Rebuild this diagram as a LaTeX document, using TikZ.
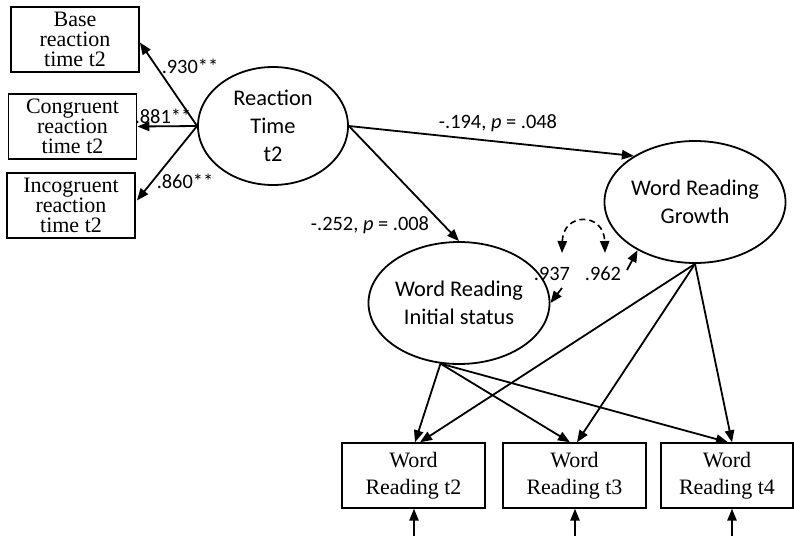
\documentclass[tikz,border=0pt]{standalone}
\usepackage{fontspec}
\setmainfont{Carlito}
\newfontfamily\tnr{Liberation Serif}
\usetikzlibrary{shapes.geometric,arrows.meta,calc}
\begin{document}
\begin{tikzpicture}[x=0.75pt,y=-0.75pt,
  line width=1.35pt,
  arr/.style={-{Triangle[length=9pt,width=7pt]}},
  lbox/.style={draw,rectangle,inner sep=0pt,minimum width=96pt,minimum height=48.5pt,align=center,font=\tnr\fontsize{16.5}{15}\selectfont},
  bbox/.style={draw,rectangle,inner sep=0pt,minimum height=48.5pt,align=center,font=\tnr\fontsize{16.5}{20}\selectfont},
  latent/.style={draw,ellipse,inner sep=0pt,align=center,font=\fontsize{16.8}{21}\selectfont},
  coef/.style={anchor=base,inner sep=0pt,font=\fontsize{15.3}{18}\selectfont}]
\useasboundingbox (0,0) rectangle (794,536);
% left indicator boxes
\node[lbox] (base) at (75,39.5) {Base\\reaction\\time t2};
\node[lbox] (cong) at (72.5,126.5) {Congruent\\reaction\\time t2};
\node[lbox] (inc) at (71,205.5) {Incogruent\\reaction\\time t2};
% latent variables
\node[latent,minimum width=112.5pt,minimum height=88.5pt] (rt) at (273,126) {Reaction\\Time\\t2};
\node[latent,minimum width=112.5pt,minimum height=91.5pt] (gr) at (695,202) {Word Reading\\Growth};
\node[latent,minimum width=114pt,minimum height=91.5pt] (ini) at (459,303) {Word Reading\\Initial status};
% bottom boxes
\node[bbox,minimum width=107.25pt] (b1) at (413.5,475.5) {Word\\Reading t2};
\node[bbox,minimum width=107.25pt] (b2) at (574.5,475.5) {Word\\Reading t3};
\node[bbox,minimum width=99pt] (b3) at (727,475.5) {Word\\Reading t4};
% loadings
\draw[arr] (rt.west) -- ($(base.east)+(0,3)$);
\draw[arr] (rt.west) -- (cong.east);
\draw[arr] (rt.west) -- ($(inc.east)+(1,-5)$);
\node[coef] (l930) at (190,73) {.930**};
\node[coef] (l881) at (163,123) {.881**};
\node[coef] (l860) at (185,188) {.860**};
% structural paths
\draw[arr] (rt.east) -- (gr.143);
\draw[arr] (rt.east) -- (ini.north);
\node[coef] (lg) at (498,128) {-.194, \textit{p} = .048};
\node[coef] (li) at (370,230) {-.252, \textit{p} = .008};
% covariance
\coordinate (c1) at (562,253);
\coordinate (c2) at (605,253);
\draw[{Triangle[length=9pt,width=7pt]}-{Triangle[length=9pt,width=7pt]},dash pattern=on 4.5pt off 3pt,line width=1.2pt] (c1) .. controls (563,212) and (604,212) .. (c2);
\node[coef] (l937) at (552,280) {.937};
\node[coef] (l962) at (603,280) {.962};
\coordinate (s937) at (562,288);
\coordinate (s962) at (627,270);
\draw[arr] (s937) -- (ini.east);
\draw[arr] (s962) -- (gr.220);
% growth curve loadings
\draw[arr] (ini.253) -- ($(b1.north)+(1.5,0)$);
\draw[arr] (ini.253) -- ($(b2.north)+(-4.5,0)$);
\draw[arr] (ini.253) -- ($(b3.north)+(1,0)$);
\draw[arr] (gr.south) -- ($(b1.north)+(6.5,0)$);
\draw[arr] (gr.south) -- ($(b2.north)+(2.5,0)$);
\draw[arr] (gr.south) -- ($(b3.north)+(5,0)$);
% residual arrows
\coordinate (e1) at (414,536);
\coordinate (e2) at (575,536);
\coordinate (e3) at (732,536);
\draw[arr] (e1) -- (b1.south -| e1);
\draw[arr] (e2) -- (b2.south -| e2);
\draw[arr] (e3) -- (b3.south -| e3);
\end{tikzpicture}
\end{document}
